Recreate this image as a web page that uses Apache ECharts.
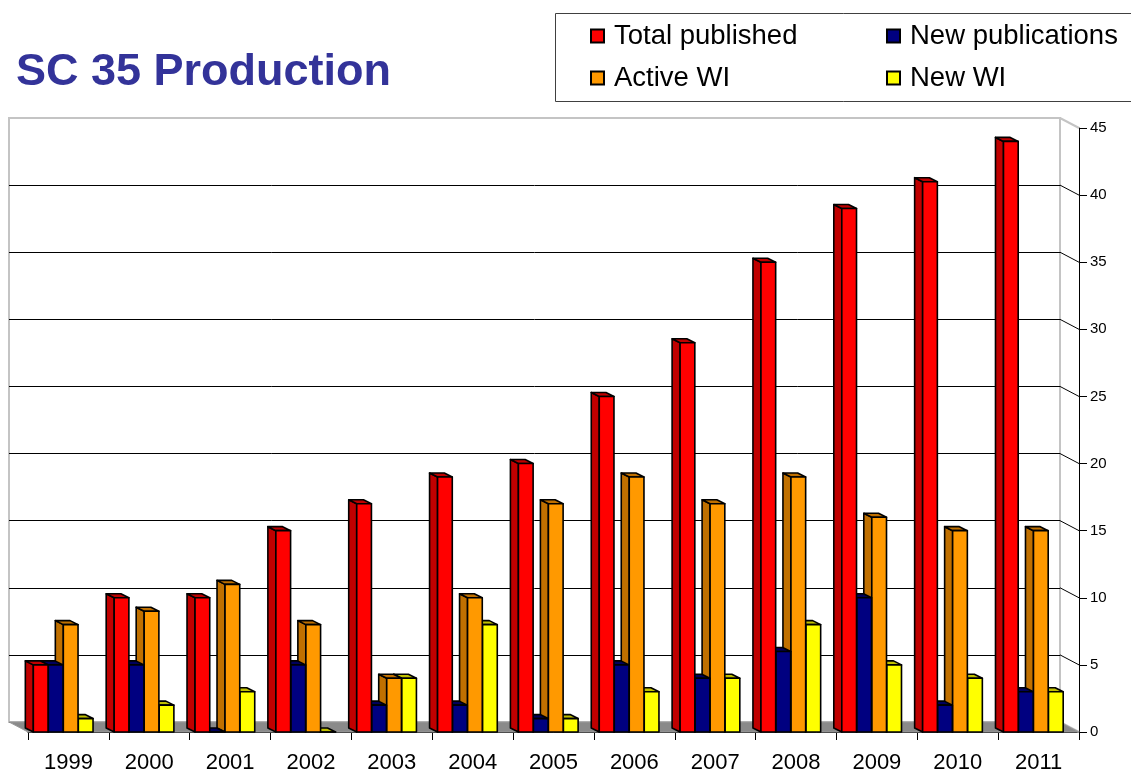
<!DOCTYPE html>
<html>
<head>
<meta charset="utf-8">
<script src="https://cdn.jsdelivr.net/npm/echarts@6/dist/echarts.min.js"></script>
<style>
  html, body { margin: 0; padding: 0; background: #fff; }
  #chart { width: 1131px; height: 770px; }
</style>
</head>
<body>
<div id="chart"></div>
<script>
const years = ['1999', '2000', '2001', '2002', '2003', '2004', '2005', '2006', '2007', '2008', '2009', '2010', '2011'];
const totalPublished = [5, 10, 10, 15, 17, 19, 20, 25, 29, 35, 39, 41, 44];
const newPublications = [5, 5, 0, 5, 2, 2, 1, 5, 4, 6, 10, 2, 3];
const activeWI = [8, 9, 11, 8, 4, 10, 17, 19, 17, 19, 16, 15, 15];
const newWI = [1, 2, 3, 0, 4, 8, 1, 3, 4, 8, 5, 4, 3];
const yTicks = [0, 5, 10, 15, 20, 25, 30, 35, 40, 45];

const font = 'Liberation Sans, Arial, sans-serif';
// 3D 效果偏移：背景墙 / 柱子厚度
const wallDX = -19, wallDY = -10;
const barDX = -8, barDY = -4;

const seriesDefs = [
    { name: 'Total published', data: totalPublished, front: '#ff0000', side: '#c00000', z: 6 },
    { name: 'New publications', data: newPublications, front: '#000080', side: '#00005c', z: 5 },
    { name: 'Active WI', data: activeWI, front: '#ff9900', side: '#c07000', z: 4 },
    { name: 'New WI', data: newWI, front: '#ffff00', side: '#c0c000', z: 3 }
];

const barRender = (idx, def) => (params, api) => {
    const cat = api.value(0);
    const v = api.value(1);
    const base = api.coord([cat, 0]);
    const top = api.coord([cat, v]);
    const band = api.size([1, 0])[0];
    const pitch = band * 0.1855;
    const w = band * 0.182;
    const x0 = base[0] - band / 2 + band * 0.066 + idx * pitch;
    const y0 = top[1], y1 = base[1];
    const stroke = { stroke: '#000', lineWidth: 1.6, lineJoin: 'round' };
    return {
        type: 'group',
        children: [
            {
                type: 'polygon',
                shape: { points: [[x0, y0], [x0 + barDX, y0 + barDY], [x0 + barDX, y1 + barDY], [x0, y1]] },
                style: Object.assign({ fill: def.side }, stroke)
            },
            {
                type: 'polygon',
                shape: { points: [[x0, y0], [x0 + w, y0], [x0 + w + barDX, y0 + barDY], [x0 + barDX, y0 + barDY]] },
                style: Object.assign({ fill: def.side }, stroke)
            },
            {
                type: 'rect',
                shape: { x: x0, y: y0, width: w, height: y1 - y0 },
                style: Object.assign({ fill: def.front }, stroke)
            }
        ]
    };
};

const barSeries = seriesDefs.map((def, i) => ({
    name: def.name,
    type: 'custom',
    xAxisIndex: 0,
    yAxisIndex: 0,
    z: def.z,
    itemStyle: { color: def.front, borderColor: '#000', borderWidth: 1 },
    renderItem: barRender(i, def),
    data: def.data.map((v, k) => [k, v])
}));

// 地板
const floorSeries = {
    type: 'custom',
    xAxisIndex: 0,
    yAxisIndex: 0,
    z: 2,
    silent: true,
    renderItem: (params, api) => {
        const band = api.size([1, 0])[0];
        const a = api.coord([0, 0]);
        const b = api.coord([years.length - 1, 0]);
        const l = a[0] - band / 2, r = b[0] + band / 2, y = a[1];
        return {
            type: 'polygon',
            shape: { points: [[l, y], [r, y], [r + wallDX, y + wallDY], [l + wallDX, y + wallDY]] },
            style: { fill: '#8a8a8a', stroke: '#9a9a9a', lineWidth: 1 }
        };
    },
    data: [[0]]
};

// 背景墙到右侧坐标轴的斜线
const connectorSeries = {
    type: 'custom',
    xAxisIndex: 0,
    yAxisIndex: 0,
    z: 1,
    silent: true,
    renderItem: (params, api) => {
        const v = api.value(1);
        const band = api.size([1, 0])[0];
        const p = api.coord([years.length - 1, v]);
        const x = p[0] + band / 2;
        const grey = v === 45 || v === 0;
        return {
            type: 'line',
            shape: { x1: x + wallDX, y1: p[1] + wallDY, x2: x, y2: p[1] },
            style: { stroke: grey ? '#c4c4c4' : '#000', lineWidth: grey ? 2 : 1 }
        };
    },
    data: yTicks.map(t => [years.length - 1, t])
};

const legendText = { fontSize: 27.5, lineHeight: 30, color: '#000', fontFamily: font, padding: [0, 0, 0, 5] };

const chart = echarts.init(document.getElementById('chart'));
chart.setOption({
    animation: false,
    backgroundColor: '#fff',
    title: {
        text: 'SC 35 Production',
        left: 16,
        top: 50,
        padding: 0,
        textStyle: { color: '#333399', fontSize: 45, fontWeight: 'bold', fontFamily: font }
    },
    graphic: [{
        type: 'rect',
        left: 555,
        top: 13,
        shape: { width: 620, height: 88 },
        style: { fill: '#fff', stroke: '#404040', lineWidth: 1 },
        z: -1
    }],
    legend: [
        {
            data: ['Total published', 'Active WI'],
            orient: 'vertical',
            left: 590,
            top: 21,
            padding: 0,
            itemGap: 12,
            itemWidth: 13,
            itemHeight: 13,
            icon: 'rect',
            selectedMode: false,
            textStyle: legendText
        },
        {
            data: ['New publications', 'New WI'],
            orient: 'vertical',
            left: 886,
            top: 21,
            padding: 0,
            itemGap: 12,
            itemWidth: 13,
            itemHeight: 13,
            icon: 'rect',
            selectedMode: false,
            textStyle: legendText
        }
    ],
    grid: [
        { left: 28, right: 52, top: 128, bottom: 38, outerBoundsMode: 'none', containLabel: false },
        { left: 9, right: 71, top: 118, bottom: 48, outerBoundsMode: 'none', show: true, borderColor: '#c4c4c4', borderWidth: 2, backgroundColor: '#fff' }
    ],
    xAxis: [
        {
            type: 'category',
            gridIndex: 0,
            data: years,
            axisLine: { lineStyle: { color: '#000', width: 1 } },
            axisTick: { show: true, length: 8, interval: 0, lineStyle: { color: '#000' } },
            axisLabel: { fontSize: 22, color: '#000', margin: 20, fontFamily: font },
            splitLine: { show: false }
        },
        {
            type: 'category',
            gridIndex: 1,
            data: years,
            show: false
        }
    ],
    yAxis: [
        {
            type: 'value',
            gridIndex: 0,
            position: 'right',
            min: 0,
            max: 45,
            interval: 5,
            axisLine: { show: true, lineStyle: { color: '#000', width: 1 } },
            axisTick: { show: true, length: 8, lineStyle: { color: '#000' } },
            axisLabel: { fontSize: 15, color: '#000', margin: 11, fontFamily: font },
            splitLine: { show: false }
        },
        {
            type: 'value',
            gridIndex: 1,
            min: 0,
            max: 45,
            interval: 5,
            axisLine: { show: false },
            axisTick: { show: false },
            axisLabel: { show: false },
            splitLine: { show: true, showMaxLine: false, lineStyle: { color: '#000', width: 1 } }
        }
    ],
    series: [floorSeries, connectorSeries].concat(barSeries)
});
</script>
</body>
</html>
